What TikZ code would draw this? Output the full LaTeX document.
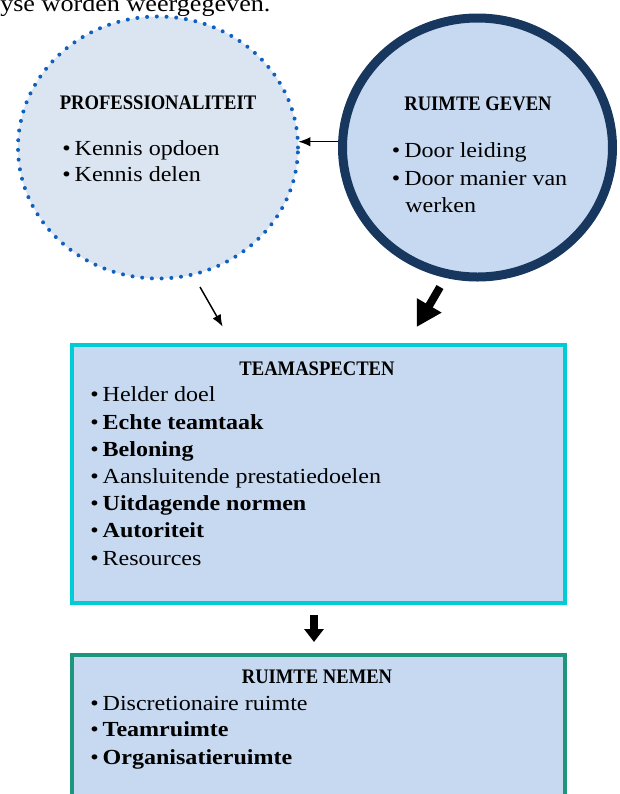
\documentclass[tikz,border=0pt]{standalone}
\usepackage{fontspec}
\setmainfont{Liberation Serif}[FakeStretch=1.12]
\newfontfamily\hdfont{Liberation Serif}[FakeStretch=0.9]
\usetikzlibrary{shapes.geometric,arrows.meta}
\definecolor{fillA}{HTML}{DBE5F1}
\definecolor{fillB}{HTML}{C6D9F1}
\definecolor{navy}{HTML}{17375E}
\definecolor{dotblue}{RGB}{16,96,192}
\definecolor{cyanB}{RGB}{0,204,214}
\definecolor{tealB}{RGB}{30,150,125}
\newcommand{\itm}{\makebox[9.3pt][l]{\textbullet}}
\begin{document}
\begin{tikzpicture}[x=0.75pt,y=-0.75pt,
  itemtext/.style={anchor=base west, inner sep=0pt, font=\fontsize{16.1pt}{20pt}\selectfont},
  toptextstyle/.style={anchor=base west, inner sep=0pt, font=\fontsize{17.5pt}{21pt}\selectfont},
  titletext/.style={anchor=base, inner sep=0pt, font=\hdfont\bfseries\fontsize{15.5pt}{19pt}\selectfont},
  dotcircle/.style={ellipse, draw=dotblue, fill=fillA, line width=3pt, line cap=round,
     dash pattern=on 0pt off 7.3pt, inner sep=0pt},
  solidcircle/.style={ellipse, draw=navy, fill=fillB, line width=6.75pt, inner sep=0pt},
  boxA/.style={rectangle, draw=cyanB, fill=fillB, line width=3pt, inner sep=0pt},
  boxB/.style={rectangle, draw=tealB, fill=fillB, line width=3.4pt, inner sep=0pt},
  thinarrow/.style={line width=1.1pt, -{Latex[length=9pt,width=7pt]}},
  blockarrow/.style={line width=6pt, -{Triangle[length=18.75pt,width=20pt]}},
  smallblock/.style={line width=6.5pt, -{Triangle[length=9.75pt,width=14.25pt]}}
]
\useasboundingbox (0,0) rectangle (620,794);
\clip (0,0) rectangle (620,794);

% top text (cut off at the top edge, as in the reference)
\node[toptextstyle] (toptext) at (0,11.5) {yse worden weergegeven.};

% circles
\node[dotcircle, minimum width=210pt, minimum height=196.5pt] (lc) at (158,147.5) {};
\node[solidcircle, minimum width=202.5pt, minimum height=194.25pt] (rc) at (477.5,147.5) {};

% boxes
\node[boxA, minimum width=369.75pt, minimum height=193.5pt] (tb) at (318.5,474) {};
\node[boxB, minimum width=369.75pt, minimum height=138.75pt] (rn) at (318.5,747.5) {};

% left circle text
\node[titletext] (lct) at (158,109) {PROFESSIONALITEIT};
\node[itemtext] (lc1) at (62,155) {\itm Kennis opdoen};
\node[itemtext] (lc2) at (62,181.7) {\itm Kennis delen};

% right circle text
\node[titletext] (rct) at (478,110.7) {RUIMTE GEVEN};
\node[itemtext] (rc1) at (391.7,157) {\itm Door leiding};
\node[itemtext] (rc2) at (391.7,185) {\itm Door manier van};
\node[itemtext] (rc3) at (405,212) {werken};

% teamaspecten
\node[titletext] (tbt) at (317,375) {TEAMASPECTEN};
\node[itemtext] (tb1) at (90,401.7) {\itm Helder doel};
\node[itemtext] (tb2) at (90,429) {\itm\textbf{Echte teamtaak}};
\node[itemtext] (tb3) at (90,456) {\itm\textbf{Beloning}};
\node[itemtext] (tb4) at (90,483) {\itm Aansluitende prestatiedoelen};
\node[itemtext] (tb5) at (90,510.7) {\itm\textbf{Uitdagende normen}};
\node[itemtext] (tb6) at (90,537) {\itm\textbf{Autoriteit}};
\node[itemtext] (tb7) at (90,565) {\itm Resources};

% ruimte nemen
\node[titletext] (rnt) at (317,683) {RUIMTE NEMEN};
\node[itemtext] (rn1) at (90,710) {\itm Discretionaire ruimte};
\node[itemtext] (rn2) at (90,736.7) {\itm\textbf{Teamruimte}};
\node[itemtext] (rn3) at (90,764) {\itm\textbf{Organisatieruimte}};

% connectors
\draw[thinarrow] ([yshift=4.35pt]rc.west) -- ([yshift=4.35pt, xshift=-1.3pt]lc.east);
\coordinate (a1s) at (200,287);
\coordinate (a1e) at (222.7,326.7);
\draw[thinarrow] (a1s) -- (a1e);
\coordinate (b1s) at (440,287);
\coordinate (b1e) at (416.7,327);
\draw[blockarrow] (b1s) -- (b1e);
\coordinate (b2s) at (314,615);
\coordinate (b2e) at (314,642);
\draw[smallblock] (b2s) -- (b2e);
\end{tikzpicture}
\end{document}
